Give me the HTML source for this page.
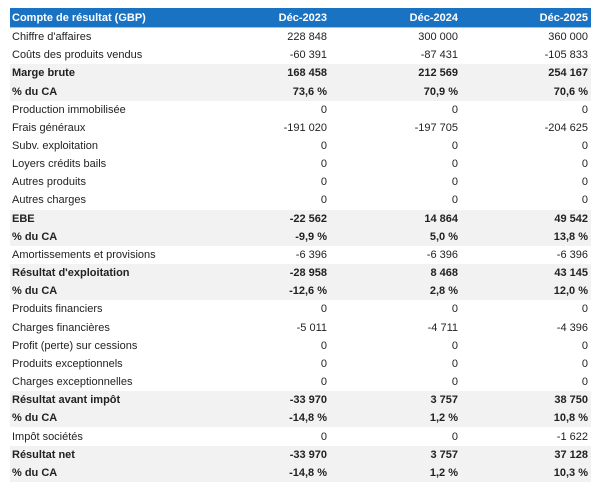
<!DOCTYPE html>
<html><head><meta charset="utf-8"><style>
body{margin:0;background:#fff;font-family:"Liberation Sans",Arial,sans-serif;font-size:11px;color:#222;}
table{position:absolute;left:10px;top:8px;width:581px;border-collapse:collapse;}
td,th{padding:0 3px 0 2px;height:18.16px;white-space:nowrap;line-height:18px;}
th{background:#1a72c3;color:#fff;font-weight:bold;height:19px;border-bottom:1px solid #9cc3e6;}
th:first-child,td:first-child{text-align:left;}
td+td,th+th{text-align:right;}
tr.b td{background:#f2f2f2;font-weight:bold;}
</style></head><body>
<table>
<colgroup><col style="width:190px"><col style="width:130px"><col style="width:131px"><col style="width:130px"></colgroup>
<tr><th>Compte de résultat (GBP)</th><th>Déc-2023</th><th>Déc-2024</th><th>Déc-2025</th></tr>
<tr><td>Chiffre d'affaires</td><td>228 848</td><td>300 000</td><td>360 000</td></tr>
<tr><td>Coûts des produits vendus</td><td>-60 391</td><td>-87 431</td><td>-105 833</td></tr>
<tr class="b"><td>Marge brute</td><td>168 458</td><td>212 569</td><td>254 167</td></tr>
<tr class="b"><td>% du CA</td><td>73,6 %</td><td>70,9 %</td><td>70,6 %</td></tr>
<tr><td>Production immobilisée</td><td>0</td><td>0</td><td>0</td></tr>
<tr><td>Frais généraux</td><td>-191 020</td><td>-197 705</td><td>-204 625</td></tr>
<tr><td>Subv. exploitation</td><td>0</td><td>0</td><td>0</td></tr>
<tr><td>Loyers crédits bails</td><td>0</td><td>0</td><td>0</td></tr>
<tr><td>Autres produits</td><td>0</td><td>0</td><td>0</td></tr>
<tr><td>Autres charges</td><td>0</td><td>0</td><td>0</td></tr>
<tr class="b"><td>EBE</td><td>-22 562</td><td>14 864</td><td>49 542</td></tr>
<tr class="b"><td>% du CA</td><td>-9,9 %</td><td>5,0 %</td><td>13,8 %</td></tr>
<tr><td>Amortissements et provisions</td><td>-6 396</td><td>-6 396</td><td>-6 396</td></tr>
<tr class="b"><td>Résultat d'exploitation</td><td>-28 958</td><td>8 468</td><td>43 145</td></tr>
<tr class="b"><td>% du CA</td><td>-12,6 %</td><td>2,8 %</td><td>12,0 %</td></tr>
<tr><td>Produits financiers</td><td>0</td><td>0</td><td>0</td></tr>
<tr><td>Charges financières</td><td>-5 011</td><td>-4 711</td><td>-4 396</td></tr>
<tr><td>Profit (perte) sur cessions</td><td>0</td><td>0</td><td>0</td></tr>
<tr><td>Produits exceptionnels</td><td>0</td><td>0</td><td>0</td></tr>
<tr><td>Charges exceptionnelles</td><td>0</td><td>0</td><td>0</td></tr>
<tr class="b"><td>Résultat avant impôt</td><td>-33 970</td><td>3 757</td><td>38 750</td></tr>
<tr class="b"><td>% du CA</td><td>-14,8 %</td><td>1,2 %</td><td>10,8 %</td></tr>
<tr><td>Impôt sociétés</td><td>0</td><td>0</td><td>-1 622</td></tr>
<tr class="b"><td>Résultat net</td><td>-33 970</td><td>3 757</td><td>37 128</td></tr>
<tr class="b"><td>% du CA</td><td>-14,8 %</td><td>1,2 %</td><td>10,3 %</td></tr>
</table>
</body></html>
